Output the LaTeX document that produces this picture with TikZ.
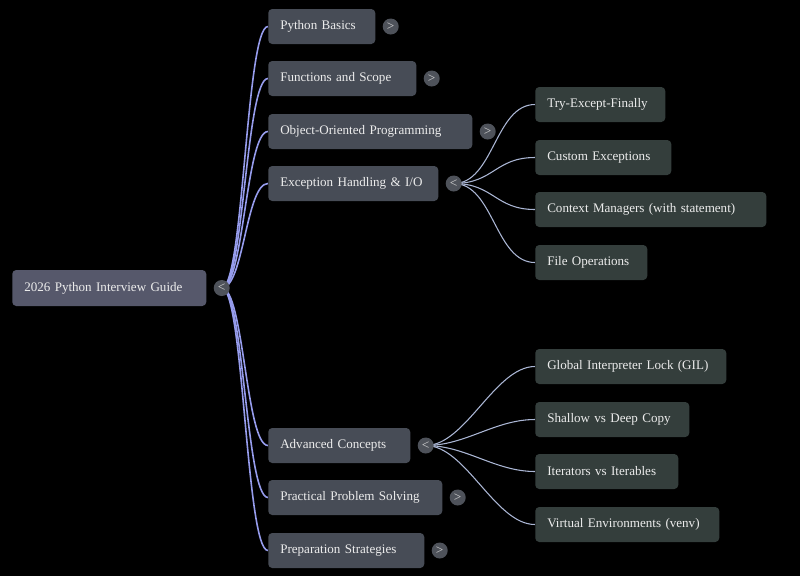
\documentclass[tikz,border=0pt]{standalone}
\usepackage{fontspec}
\setmainfont{Liberation Serif}
\usetikzlibrary{positioning,backgrounds}
\definecolor{mmbg}{RGB}{0,0,0}
\definecolor{mmroot}{RGB}{86,88,107}
\definecolor{mmtop}{RGB}{71,76,86}
\definecolor{mmsub}{RGB}{52,62,60}
\definecolor{mmtog}{RGB}{78,82,90}
\definecolor{mmink}{RGB}{236,236,236}
\definecolor{mmlink}{RGB}{150,156,236}
\definecolor{mmsublink}{RGB}{170,182,212}
\tikzset{
  mmbox/.style={
    rounded corners=3pt, align=left, inner xsep=9pt, inner ysep=2pt,
    text=mmink, font=\fontsize{9.8}{11}\selectfont, minimum height=26.25pt
  },
  rootbox/.style={mmbox, fill=mmroot, minimum height=27pt},
  topbox/.style={mmbox, fill=mmtop},
  subbox/.style={mmbox, fill=mmsub},
  tog/.style={
    circle, fill=mmtog, text=mmink!90!black, inner sep=0pt,
    minimum size=12pt, font=\fontsize{10}{10}\selectfont
  },
  link/.style={draw=mmlink, line width=1.2pt},
  sublink/.style={draw=mmsublink, line width=0.8pt}
}

\begin{document}
\begin{tikzpicture}[x=0.75pt, y=-0.75pt]
  \useasboundingbox (0,0) rectangle (800,576);
  % root
  \node[rootbox, text width=127.5pt, anchor=west] (guide) at (12,288) {2026 Python Interview Guide};
  \node[tog, right=5.2pt of guide] (tguide) {<};
  % first level
  \node[topbox, text width=62.25pt, anchor=west] (basics) at (268,26.5) {Python Basics};
  \node[topbox, text width=93pt, anchor=west] (funcs) at (268,78.5) {Functions and Scope};
  \node[topbox, text width=135pt, anchor=west] (oop) at (268,131.5) {Object-Oriented Programming};
  \node[topbox, text width=109.5pt, anchor=west] (exc) at (268,183.5) {Exception Handling \& I/O};
  \node[topbox, text width=88.5pt, anchor=west] (adv) at (268,445.5) {Advanced Concepts};
  \node[topbox, text width=112.5pt, anchor=west] (prac) at (268,497.5) {Practical Problem Solving};
  \node[topbox, text width=99pt, anchor=west] (prep) at (268,550.5) {Preparation Strategies};
  \node[tog, right=5.2pt of basics] (tbasics) {>};
  \node[tog, right=5.2pt of funcs] (tfuncs) {>};
  \node[tog, right=5.2pt of oop] (toop) {>};
  \node[tog, right=5.2pt of exc] (texc) {<};
  \node[tog, right=5.2pt of adv] (tadv) {<};
  \node[tog, right=5.2pt of prac] (tprac) {>};
  \node[tog, right=5.2pt of prep] (tprep) {>};
  % second level
  \node[subbox, text width=79.5pt, anchor=west] (try) at (535,104.5) {Try-Except-Finally};
  \node[subbox, text width=84pt, anchor=west] (custom) at (535,157.5) {Custom Exceptions};
  \node[subbox, text width=155.25pt, anchor=west] (ctx) at (535,209.5) {Context Managers (with statement)};
  \node[subbox, text width=66pt, anchor=west] (file) at (535,262.5) {File Operations};
  \node[subbox, text width=125.25pt, anchor=west] (gil) at (535,366.5) {Global Interpreter Lock (GIL)};
  \node[subbox, text width=97.5pt, anchor=west] (copy) at (535,419.5) {Shallow vs Deep Copy};
  \node[subbox, text width=89.25pt, anchor=west] (iter) at (535,471.5) {Iterators vs Iterables};
  \node[subbox, text width=120pt, anchor=west] (venv) at (535,524.5) {Virtual Environments (venv)};
  % links behind the boxes
  \begin{scope}[on background layer]
    \fill[mmbg] (0,0) rectangle (800,576);
    \foreach \n in {basics,funcs,oop,exc,adv,prac,prep}
      \draw[link] (tguide.center) .. controls +(22,0) and +(-22,0) .. (\n.west);
    \foreach \n in {try,custom,ctx,file}
      \draw[sublink] (texc.center) .. controls +(40,0) and +(-40,0) .. (\n.west);
    \foreach \n in {gil,copy,iter,venv}
      \draw[sublink] (tadv.center) .. controls +(40,0) and +(-40,0) .. (\n.west);
  \end{scope}
\end{tikzpicture}
\end{document}
